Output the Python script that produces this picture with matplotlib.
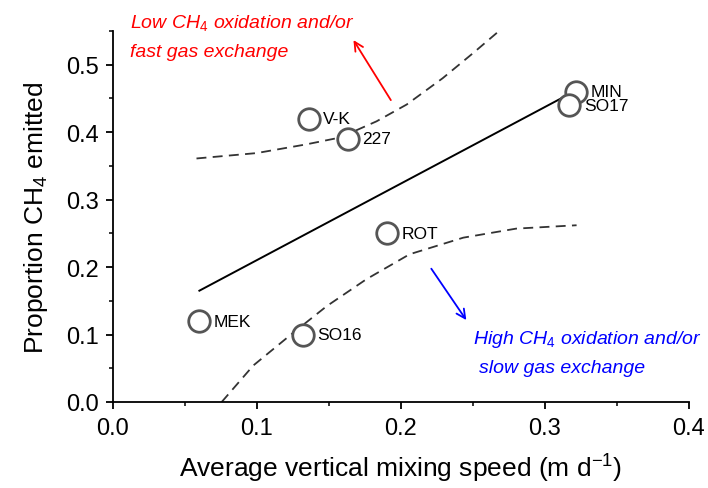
import matplotlib
matplotlib.use("Agg")
import matplotlib.pyplot as plt
from matplotlib.ticker import MultipleLocator, FormatStrFormatter

plt.rcParams['font.family'] = ['Liberation Sans', 'DejaVu Sans']
plt.rcParams['mathtext.fontset'] = 'custom'
plt.rcParams['mathtext.rm'] = 'Liberation Sans'
plt.rcParams['mathtext.it'] = 'Liberation Sans:italic'
plt.rcParams['mathtext.bf'] = 'Liberation Sans:bold'

# Lakes
sites = ["MEK", "SO16", "V-K", "227", "ROT", "MIN", "SO17"]
mixing_speed = [0.060, 0.132, 0.136, 0.163, 0.190, 0.3215, 0.317]
prop_emitted = [0.120, 0.100, 0.420, 0.390, 0.250, 0.460, 0.440]

# Regression line endpoints
fit_x = [0.060, 0.320]
fit_y = [0.165, 0.460]

# Confidence band curves
upper_x = [0.058, 0.0998, 0.1345, 0.1576, 0.183, 0.204, 0.229, 0.250, 0.2676, 0.272]
upper_y = [0.361, 0.369, 0.382, 0.392, 0.416, 0.441, 0.480, 0.517, 0.549, 0.557]
lower_x = [0.0755, 0.0974, 0.124, 0.1484, 0.176, 0.206, 0.2433, 0.280, 0.322]
lower_y = [0.000, 0.054, 0.1006, 0.142, 0.182, 0.219, 0.2436, 0.257, 0.262]

fig = plt.figure(figsize=(7.08, 4.89), dpi=100)
ax = fig.add_axes([0.1596, 0.1759, 0.8134, 0.7587])

ax.plot(fit_x, fit_y, color='black', lw=1.4, zorder=2)
ax.plot(upper_x, upper_y, color='#333333', lw=1.3, dashes=(5.5, 3.5), zorder=2)
ax.plot(lower_x, lower_y, color='#333333', lw=1.3, dashes=(5.5, 3.5), zorder=2)

ax.plot(mixing_speed, prop_emitted, linestyle='none', marker='o', markersize=15.5,
        markerfacecolor='white', markeredgecolor='#555555', markeredgewidth=2, zorder=3)
for s, x, y in zip(sites, mixing_speed, prop_emitted):
    ax.annotate(s, (x, y), xytext=(10.5, 0), textcoords='offset points',
                va='center', ha='left', fontsize=12.5, zorder=4)

ax.set_xlim(0, 0.4)
ax.set_ylim(0, 0.55)
ax.xaxis.set_major_locator(MultipleLocator(0.1))
ax.xaxis.set_minor_locator(MultipleLocator(0.05))
ax.yaxis.set_major_locator(MultipleLocator(0.1))
ax.yaxis.set_minor_locator(MultipleLocator(0.05))
ax.xaxis.set_major_formatter(FormatStrFormatter('%.1f'))
ax.yaxis.set_major_formatter(FormatStrFormatter('%.1f'))
for sp in ['top', 'right']:
    ax.spines[sp].set_visible(False)
for sp in ['left', 'bottom']:
    ax.spines[sp].set_linewidth(1.3)
ax.tick_params(which='major', direction='out', length=5, width=1.3, labelsize=17, pad=5)
ax.tick_params(which='minor', direction='out', length=3, width=1.1)
ax.tick_params(axis='x', which='major', pad=6)

ax.set_xlabel("Average vertical mixing speed (m d$^{-1}$)", fontsize=19, labelpad=9)
ax.set_ylabel("Proportion CH$_4$ emitted", fontsize=19, labelpad=12)

# Annotations
ax.text(0.0118, 0.5636, "Low CH$_\\mathit{4}$ oxidation and/or", color='#ff0000', style='italic',
        fontsize=14, ha='left', va='center', clip_on=False)
ax.text(0.0118, 0.519, "fast gas exchange", color='#ff0000', style='italic',
        fontsize=14, ha='left', va='center', clip_on=False)
ax.annotate("", xy=(0.166, 0.540), xytext=(0.194, 0.444),
            arrowprops=dict(arrowstyle='->', color='#ff0000', lw=1.3, mutation_scale=16),
            annotation_clip=False)

ax.text(0.250, 0.0947, "High CH$_\\mathit{4}$ oxidation and/or", color='#0000ff', style='italic',
        fontsize=14, ha='left', va='center')
ax.text(0.254, 0.0518, "slow gas exchange", color='#0000ff', style='italic',
        fontsize=14, ha='left', va='center')
ax.annotate("", xy=(0.2465, 0.118), xytext=(0.220, 0.201),
            arrowprops=dict(arrowstyle='->', color='#0000ff', lw=1.3, mutation_scale=16))

fig.savefig("out.png", dpi=100)
